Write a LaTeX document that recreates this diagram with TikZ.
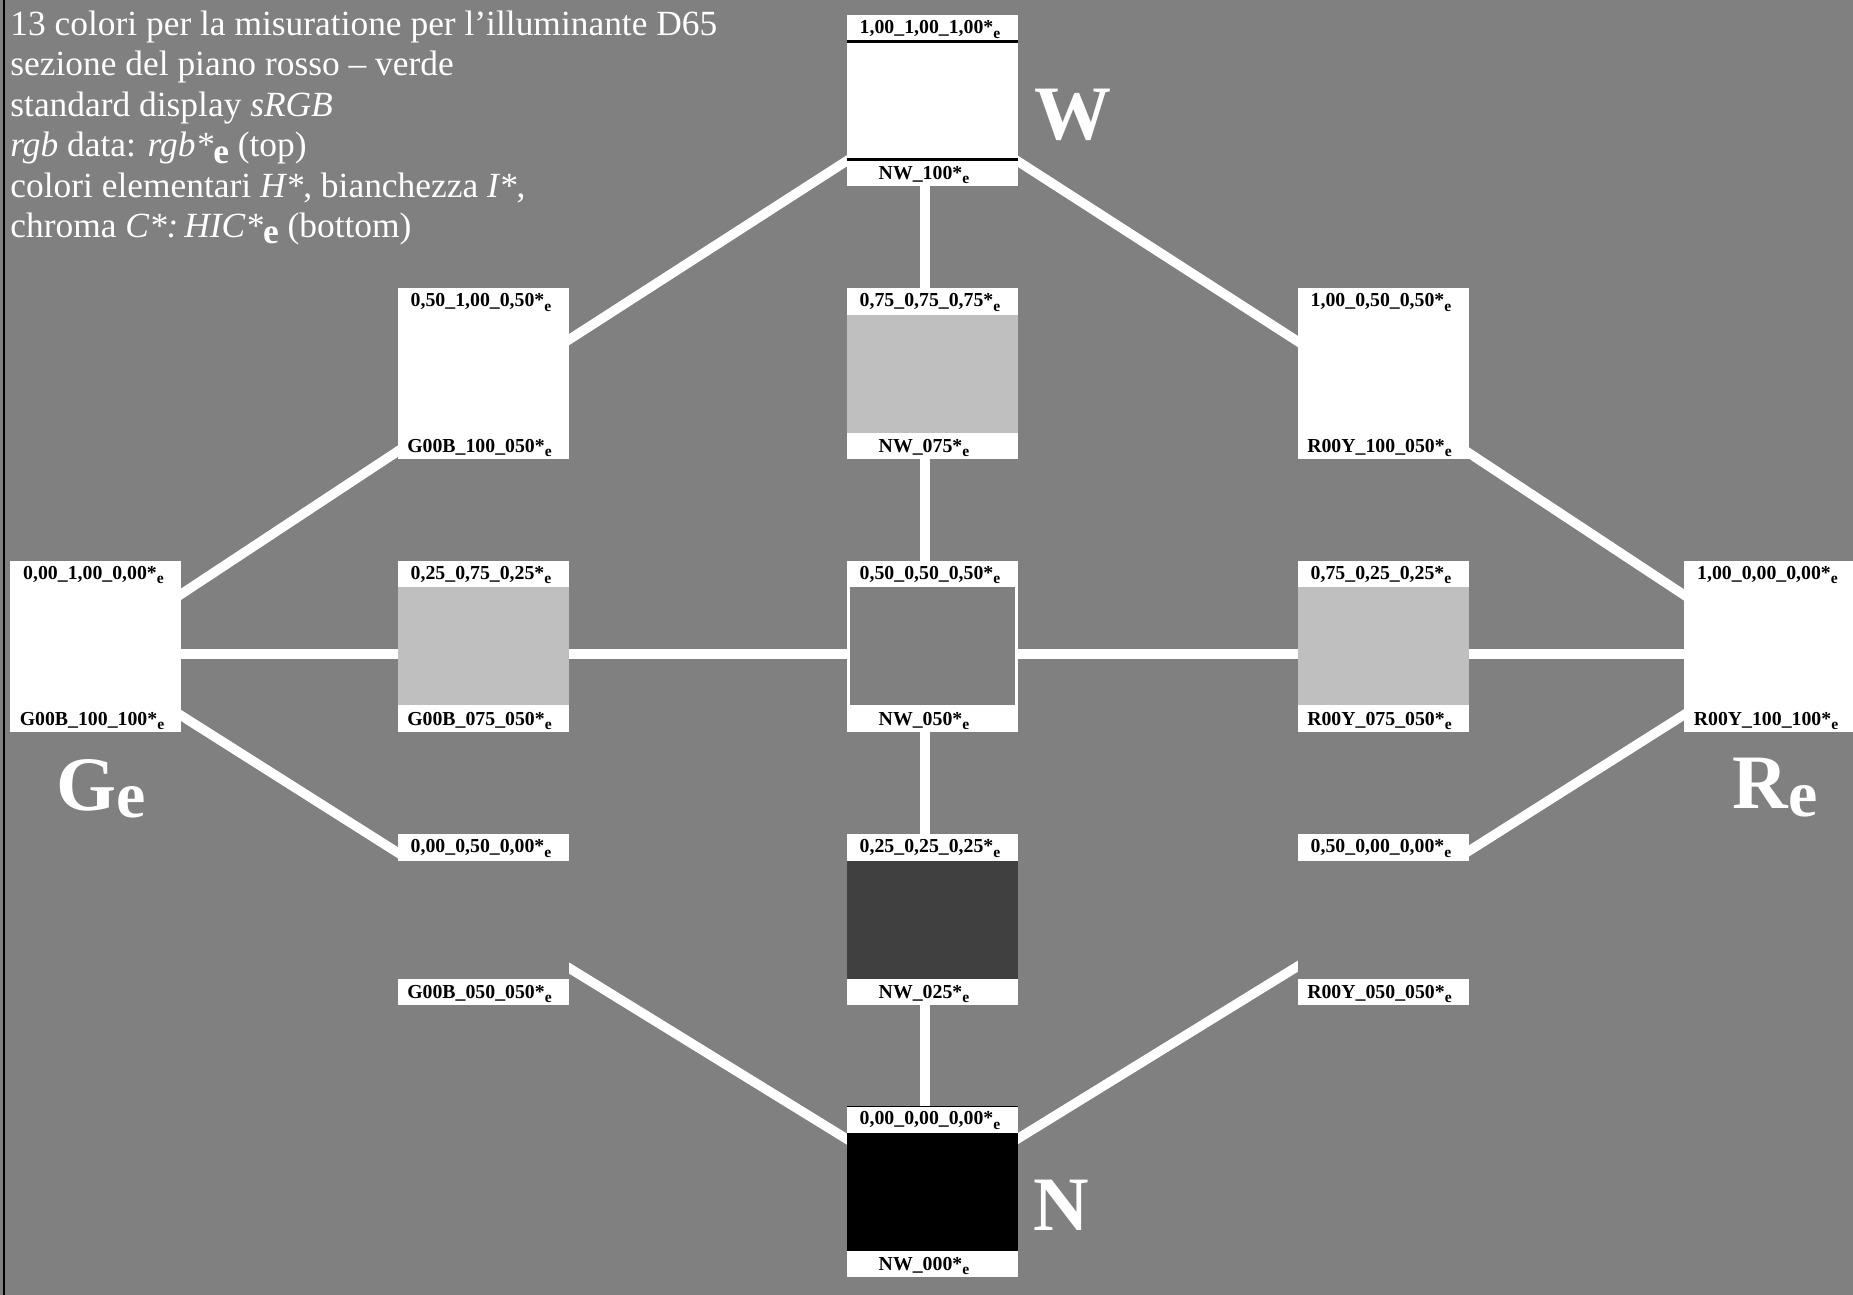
\documentclass[tikz,border=0pt]{standalone}
\usepackage{fontspec}
\setmainfont{Liberation Serif}
\usetikzlibrary{calc}
\definecolor{bggray}{gray}{0.5}
\definecolor{lgray}{gray}{0.749}
\definecolor{dgray}{gray}{0.251}
\newcommand\labfont{\fontsize{9.9pt}{10pt}\selectfont\bfseries}
\newcommand\esub{\raisebox{-0.22em}{\fontsize{7.8pt}{8pt}\selectfont e}}
\newcommand\tsub{\raisebox{-0.18em}{\bfseries e}}
\newcommand\Swatch[8]{%
 \node[swbox] (#1) at (#2,#3) {};
 \fill[#4] ($(#1.north west)+(#5,26.5)$) rectangle ($(#1.south east)+(-#5,-26.5)$);
 \node[lab] (#1t) at ($(#1.north)+(-2,18.8)$) {#6};
 \node[lab] (#1b) at ($(#1.south)+(#8,-6.5)$) {#7};
}
\begin{document}
\begin{tikzpicture}[x=0.5pt,y=-0.5pt,
  swbox/.style={rectangle, fill=white, draw=none, minimum width=85.5pt, minimum height=85.5pt, inner sep=0pt, outer sep=0pt},
  lab/.style={anchor=base, font=\labfont, inner sep=0pt, text=black},
  link/.style={draw=white, line width=4.75pt},
  bigl/.style={anchor=base west, inner sep=0pt, text=white, font=\fontsize{38.5pt}{40pt}\selectfont\bfseries},
  ttl/.style={anchor=base west, inner sep=0pt, text=white, font=\fontsize{17.7pt}{20pt}\selectfont}]
\useasboundingbox (0,0) rectangle (1853,1295);
\fill[bggray] (0,0) rectangle (1853,1295);
\draw[black, line width=1pt] (3.7,0) -- (3.7,1295);
% junction coordinates
\coordinate (jW) at (932,106);
\coordinate (jA) at (483,395);
\coordinate (jC) at (1381,395);
\coordinate (jG1) at (95,651);
\coordinate (jG2) at (95,661);
\coordinate (jR1) at (1769,651);
\coordinate (jR2) at (1769,661);
\coordinate (jD1) at (483,906.6);
\coordinate (jD2) at (483,915);
\coordinate (jF1) at (1381,906.6);
\coordinate (jF2) at (1381,915);
\coordinate (jN) at (932,1191.5);
\coordinate (jGh) at (95,654);
\coordinate (jRh) at (1769,654);
\coordinate (jWv) at (925,100);
\coordinate (jNv) at (925,1191);
% connectors
\draw[link] (jA) -- (jW) -- (jC);
\draw[link] (jG1) -- (jA);
\draw[link] (jR1) -- (jC);
\draw[link] (jG2) -- (jD1);
\draw[link] (jR2) -- (jF1);
\draw[link] (jD2) -- (jN) -- (jF2);
\draw[link] (jGh) -- (jRh);
\draw[link] (jWv) -- (jNv);
% swatches
\Swatch{W}{932}{100.5}{white}{0}{1,00\_1,00\_1,00*\esub}{NW\_100*\esub}{-8}
\Swatch{A}{483}{373.5}{white}{0}{0,50\_1,00\_0,50*\esub}{G00B\_100\_050*\esub}{-3.5}
\Swatch{B}{932}{373.5}{lgray}{0}{0,75\_0,75\_0,75*\esub}{NW\_075*\esub}{-8}
\Swatch{C}{1383}{373.5}{white}{0}{1,00\_0,50\_0,50*\esub}{R00Y\_100\_050*\esub}{-3.5}
\Swatch{G}{95.5}{646}{white}{0}{0,00\_1,00\_0,00*\esub}{G00B\_100\_100*\esub}{-3.5}
\Swatch{H}{483}{646}{lgray}{0}{0,25\_0,75\_0,25*\esub}{G00B\_075\_050*\esub}{-3.5}
\Swatch{M}{932}{646}{bggray}{3}{0,50\_0,50\_0,50*\esub}{NW\_050*\esub}{-8}
\Swatch{K}{1383}{646}{lgray}{0}{0,75\_0,25\_0,25*\esub}{R00Y\_075\_050*\esub}{-3.5}
\Swatch{R}{1769.5}{646}{white}{0}{1,00\_0,00\_0,00*\esub}{R00Y\_100\_100*\esub}{-3.5}
\Swatch{D}{483}{919.5}{bggray}{0}{0,00\_0,50\_0,00*\esub}{G00B\_050\_050*\esub}{-3.5}
\Swatch{E}{932}{919.5}{dgray}{0}{0,25\_0,25\_0,25*\esub}{NW\_025*\esub}{-8}
\Swatch{F}{1383}{919.5}{bggray}{0}{0,50\_0,00\_0,00*\esub}{R00Y\_050\_050*\esub}{-3.5}
\Swatch{N}{932}{1191.5}{black}{0}{0,00\_0,00\_0,00*\esub}{NW\_000*\esub}{-8}
% separators in W and N
\draw[black, line width=1.3pt] ($(W.north west)+(0,26.7)$) -- ($(W.north east)+(0,26.7)$);
\draw[black, line width=1.3pt] ($(W.south west)+(0,-26.7)$) -- ($(W.south east)+(0,-26.7)$);
\draw[black, line width=0.6pt] ($(N.north west)+(0,0.6)$) -- ($(N.north east)+(0,0.6)$);
% big letters
\node[bigl] (lW) at (1034,140) {W};
\node[bigl] (lN) at (1033,1230) {N};
\node[bigl] (lG) at (56,810) {G\raisebox{-3.5pt}{\fontsize{33pt}{33pt}\selectfont e}};
\node[bigl] (lR) at (1732,808) {R\raisebox{-4pt}{\fontsize{33pt}{33pt}\selectfont e}};
% title
\node[ttl] (t1) at (10,35.5) {13 colori per la misuratione per l’illuminante D65};
\node[ttl] (t2) at (10,75.9) {sezione del piano rosso – verde};
\node[ttl] (t3) at (10,116.3) {standard display \textit{sRGB}};
\node[ttl] (t4) at (10,156.7) {\textit{rgb} data: \textit{rgb*}\tsub{} (top)};
\node[ttl] (t5) at (10,197.1) {colori elementari \textit{H*},\ bianchezza \textit{I*},};
\node[ttl] (t6) at (10,237.5) {chroma \textit{C*:\,HIC*}\tsub{} (bottom)};
\end{tikzpicture}
\end{document}
